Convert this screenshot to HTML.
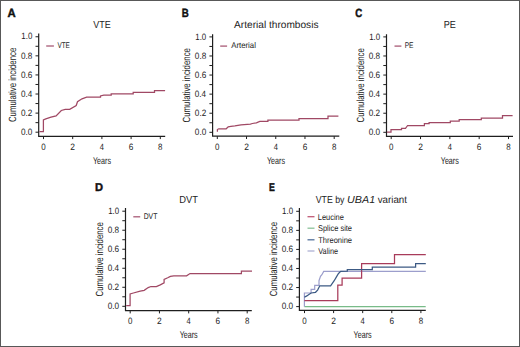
<!DOCTYPE html>
<html><head><meta charset="utf-8"><style>
html,body{margin:0;padding:0;background:#fff;}
svg{display:block;}
text{font-family:"Liberation Sans", sans-serif;text-rendering:geometricPrecision;}
</style></head><body>
<svg width="520" height="347" viewBox="0 0 520 347">
<rect x="0" y="0" width="520" height="347" fill="#fff"/>
<path d="M38.70 33.50V136.30H165.20" fill="none" stroke="#1e1e1e" stroke-width="1.2"/>
<path d="M35.50 132.20H38.70M35.50 122.65H38.70M35.50 113.11H38.70M35.50 103.56H38.70M35.50 94.02H38.70M35.50 84.47H38.70M35.50 74.93H38.70M35.50 65.39H38.70M35.50 55.84H38.70M35.50 46.29H38.70M35.50 36.75H38.70M43.50 136.30V139.10M72.70 136.30V139.10M101.90 136.30V139.10M131.10 136.30V139.10M160.30 136.30V139.10" fill="none" stroke="#1e1e1e" stroke-width="1"/>
<path d="M212.60 34.30V136.20H339.30" fill="none" stroke="#1e1e1e" stroke-width="1.2"/>
<path d="M209.40 132.30H212.60M209.40 122.76H212.60M209.40 113.22H212.60M209.40 103.68H212.60M209.40 94.14H212.60M209.40 84.60H212.60M209.40 75.06H212.60M209.40 65.52H212.60M209.40 55.98H212.60M209.40 46.44H212.60M209.40 36.90H212.60M217.30 136.20V139.00M246.53 136.20V139.00M275.75 136.20V139.00M304.98 136.20V139.00M334.20 136.20V139.00" fill="none" stroke="#1e1e1e" stroke-width="1"/>
<path d="M386.50 34.30V136.30H513.00" fill="none" stroke="#1e1e1e" stroke-width="1.2"/>
<path d="M383.30 132.30H386.50M383.30 122.76H386.50M383.30 113.22H386.50M383.30 103.68H386.50M383.30 94.14H386.50M383.30 84.60H386.50M383.30 75.06H386.50M383.30 65.52H386.50M383.30 55.98H386.50M383.30 46.44H386.50M383.30 36.90H386.50M391.20 136.30V139.10M420.52 136.30V139.10M449.85 136.30V139.10M479.18 136.30V139.10M508.50 136.30V139.10" fill="none" stroke="#1e1e1e" stroke-width="1"/>
<path d="M125.50 208.00V310.60H251.80" fill="none" stroke="#1e1e1e" stroke-width="1.2"/>
<path d="M122.30 306.30H125.50M122.30 296.79H125.50M122.30 287.28H125.50M122.30 277.77H125.50M122.30 268.26H125.50M122.30 258.75H125.50M122.30 249.24H125.50M122.30 239.73H125.50M122.30 230.22H125.50M122.30 220.71H125.50M122.30 211.20H125.50M130.20 310.60V313.40M159.45 310.60V313.40M188.70 310.60V313.40M217.95 310.60V313.40M247.20 310.60V313.40" fill="none" stroke="#1e1e1e" stroke-width="1"/>
<path d="M299.40 208.00V310.30H425.80" fill="none" stroke="#1e1e1e" stroke-width="1.2"/>
<path d="M296.20 306.60H299.40M296.20 297.07H299.40M296.20 287.54H299.40M296.20 278.01H299.40M296.20 268.48H299.40M296.20 258.95H299.40M296.20 249.42H299.40M296.20 239.89H299.40M296.20 230.36H299.40M296.20 220.83H299.40M296.20 211.30H299.40M304.50 310.30V313.10M333.60 310.30V313.10M362.70 310.30V313.10M391.80 310.30V313.10M420.90 310.30V313.10" fill="none" stroke="#1e1e1e" stroke-width="1"/>
<path d="M46.2 46.0H53.9" stroke="#a85a76" stroke-width="1.3"/>
<path d="M220.2 46.1H227.1" stroke="#a85a76" stroke-width="1.3"/>
<path d="M394.5 46.1H401.4" stroke="#a85a76" stroke-width="1.3"/>
<path d="M133.3 216.8H140.2" stroke="#a85a76" stroke-width="1.3"/>
<path d="M307.5 216.7H314.5" stroke="#c05a76" stroke-width="1.3"/>
<path d="M307.5 228.2H314.5" stroke="#8cc29a" stroke-width="1.3"/>
<path d="M307.5 239.8H314.5" stroke="#52709a" stroke-width="1.3"/>
<path d="M307.5 251.0H314.5" stroke="#aeb0d4" stroke-width="1.3"/>
<path d="M39.40 131.70 L43.40 131.70 L43.40 119.80 L45.80 118.80 L51.00 117.20 L56.10 115.90 L61.30 110.50 L65.20 109.40 L69.70 109.40 L76.20 105.50 L77.50 101.70 L82.00 98.80 L86.60 97.20 L100.50 97.20 L100.50 96.00 L103.80 95.20 L111.20 95.20 L111.20 93.90 L133.20 93.90 L133.20 92.30 L154.50 92.30 L154.50 90.50 L165.10 90.50" fill="none" stroke="#a04864" stroke-width="1.25" stroke-linejoin="miter"/>
<path d="M217.40 131.80 L217.40 129.50 L218.70 128.80 L226.20 128.80 L228.20 126.80 L230.90 126.40 L234.90 125.90 L241.00 124.80 L250.40 124.10 L252.40 123.50 L256.40 122.80 L259.80 121.40 L267.90 121.40 L267.90 120.10 L299.00 120.10 L299.00 118.50 L328.00 118.50 L328.00 116.20 L338.40 116.20" fill="none" stroke="#a04864" stroke-width="1.25" stroke-linejoin="miter"/>
<path d="M387.00 132.20 L391.00 132.20 L391.00 129.50 L401.50 129.50 L401.50 128.40 L405.50 128.40 L407.60 125.50 L424.40 125.50 L424.40 123.70 L429.10 123.70 L429.10 122.50 L450.30 122.50 L450.30 121.00 L459.20 121.00 L459.20 119.60 L481.30 119.60 L481.30 118.10 L502.50 118.10 L502.50 115.50 L512.60 115.50" fill="none" stroke="#a04864" stroke-width="1.25" stroke-linejoin="miter"/>
<path d="M126.20 305.60 L130.10 305.60 L130.10 293.90 L133.40 293.00 L140.20 291.20 L144.20 290.30 L148.20 287.60 L150.90 286.50 L156.30 286.50 L160.30 284.90 L164.10 282.90 L164.10 279.50 L167.70 277.80 L170.40 276.40 L173.80 275.80 L186.60 275.80 L190.00 273.50 L241.40 273.50 L241.40 271.00 L252.00 271.00" fill="none" stroke="#a04864" stroke-width="1.25" stroke-linejoin="miter"/>
<path d="M304.40 306.70 L425.70 306.70" fill="none" stroke="#78bb88" stroke-width="1.3" stroke-linejoin="miter"/>
<path d="M304.40 306.70 L304.40 293.00 L311.10 293.00 L311.10 289.40 L314.70 289.40 L314.70 285.30 L319.00 285.30 L319.00 280.70 L320.50 276.40 L321.90 274.70 L323.70 271.40 L425.80 271.40" fill="none" stroke="#9c9ecc" stroke-width="1.2" stroke-linejoin="miter"/>
<path d="M304.40 300.50 L337.80 300.50 L337.80 285.20 L342.10 285.20 L342.10 278.20 L361.60 278.20 L361.60 263.60 L394.50 263.60 L394.50 254.50 L425.80 254.50" fill="none" stroke="#a83b5a" stroke-width="1.25" stroke-linejoin="miter"/>
<path d="M304.40 297.30 L306.80 295.90 L308.20 294.90 L311.10 293.00 L315.50 292.30 L317.60 290.10 L319.80 285.80 L330.60 285.80 L334.20 280.70 L336.30 277.10 L338.50 273.50 L340.70 271.40 L347.30 271.20 L347.30 269.60 L372.30 269.60 L372.30 267.00 L415.60 267.00 L415.60 263.60 L425.80 263.60" fill="none" stroke="#3c5a84" stroke-width="1.25" stroke-linejoin="miter"/>
<text x="20.97" y="134.90" font-size="9.2" fill="#222" textLength="11.40" lengthAdjust="spacingAndGlyphs">0.0</text>
<text x="20.97" y="115.81" font-size="9.2" fill="#222" textLength="11.40" lengthAdjust="spacingAndGlyphs">0.2</text>
<text x="20.97" y="96.72" font-size="9.2" fill="#222" textLength="11.28" lengthAdjust="spacingAndGlyphs">0.4</text>
<text x="20.97" y="77.63" font-size="9.2" fill="#222" textLength="11.40" lengthAdjust="spacingAndGlyphs">0.6</text>
<text x="20.97" y="58.54" font-size="9.2" fill="#222" textLength="11.40" lengthAdjust="spacingAndGlyphs">0.8</text>
<text x="21.35" y="39.45" font-size="9.2" fill="#222" textLength="10.99" lengthAdjust="spacingAndGlyphs">1.0</text>
<text x="41.27" y="149.90" font-size="9.2" fill="#222" textLength="4.45" lengthAdjust="spacingAndGlyphs">0</text>
<text x="70.34" y="149.90" font-size="9.2" fill="#222" textLength="4.72" lengthAdjust="spacingAndGlyphs">2</text>
<text x="99.79" y="149.90" font-size="9.2" fill="#222" textLength="4.21" lengthAdjust="spacingAndGlyphs">4</text>
<text x="128.75" y="149.90" font-size="9.2" fill="#222" textLength="4.58" lengthAdjust="spacingAndGlyphs">6</text>
<text x="158.07" y="149.90" font-size="9.2" fill="#222" textLength="4.45" lengthAdjust="spacingAndGlyphs">8</text>
<text x="92.97" y="163.90" font-size="10" fill="#222" textLength="18.02" lengthAdjust="spacingAndGlyphs">Years</text>
<text x="194.87" y="135.00" font-size="9.2" fill="#222" textLength="11.40" lengthAdjust="spacingAndGlyphs">0.0</text>
<text x="194.87" y="115.92" font-size="9.2" fill="#222" textLength="11.40" lengthAdjust="spacingAndGlyphs">0.2</text>
<text x="194.87" y="96.84" font-size="9.2" fill="#222" textLength="11.28" lengthAdjust="spacingAndGlyphs">0.4</text>
<text x="194.87" y="77.76" font-size="9.2" fill="#222" textLength="11.40" lengthAdjust="spacingAndGlyphs">0.6</text>
<text x="194.87" y="58.68" font-size="9.2" fill="#222" textLength="11.40" lengthAdjust="spacingAndGlyphs">0.8</text>
<text x="195.25" y="39.60" font-size="9.2" fill="#222" textLength="10.99" lengthAdjust="spacingAndGlyphs">1.0</text>
<text x="215.07" y="149.80" font-size="9.2" fill="#222" textLength="4.45" lengthAdjust="spacingAndGlyphs">0</text>
<text x="244.16" y="149.80" font-size="9.2" fill="#222" textLength="4.72" lengthAdjust="spacingAndGlyphs">2</text>
<text x="273.64" y="149.80" font-size="9.2" fill="#222" textLength="4.21" lengthAdjust="spacingAndGlyphs">4</text>
<text x="302.63" y="149.80" font-size="9.2" fill="#222" textLength="4.58" lengthAdjust="spacingAndGlyphs">6</text>
<text x="331.97" y="149.80" font-size="9.2" fill="#222" textLength="4.45" lengthAdjust="spacingAndGlyphs">8</text>
<text x="266.97" y="163.80" font-size="10" fill="#222" textLength="18.02" lengthAdjust="spacingAndGlyphs">Years</text>
<text x="368.77" y="135.00" font-size="9.2" fill="#222" textLength="11.40" lengthAdjust="spacingAndGlyphs">0.0</text>
<text x="368.77" y="115.92" font-size="9.2" fill="#222" textLength="11.40" lengthAdjust="spacingAndGlyphs">0.2</text>
<text x="368.77" y="96.84" font-size="9.2" fill="#222" textLength="11.28" lengthAdjust="spacingAndGlyphs">0.4</text>
<text x="368.77" y="77.76" font-size="9.2" fill="#222" textLength="11.40" lengthAdjust="spacingAndGlyphs">0.6</text>
<text x="368.77" y="58.68" font-size="9.2" fill="#222" textLength="11.40" lengthAdjust="spacingAndGlyphs">0.8</text>
<text x="369.15" y="39.60" font-size="9.2" fill="#222" textLength="10.99" lengthAdjust="spacingAndGlyphs">1.0</text>
<text x="388.97" y="149.90" font-size="9.2" fill="#222" textLength="4.45" lengthAdjust="spacingAndGlyphs">0</text>
<text x="418.16" y="149.90" font-size="9.2" fill="#222" textLength="4.72" lengthAdjust="spacingAndGlyphs">2</text>
<text x="447.74" y="149.90" font-size="9.2" fill="#222" textLength="4.21" lengthAdjust="spacingAndGlyphs">4</text>
<text x="476.83" y="149.90" font-size="9.2" fill="#222" textLength="4.58" lengthAdjust="spacingAndGlyphs">6</text>
<text x="506.27" y="149.90" font-size="9.2" fill="#222" textLength="4.45" lengthAdjust="spacingAndGlyphs">8</text>
<text x="440.77" y="163.90" font-size="10" fill="#222" textLength="18.02" lengthAdjust="spacingAndGlyphs">Years</text>
<text x="107.77" y="309.00" font-size="9.2" fill="#222" textLength="11.40" lengthAdjust="spacingAndGlyphs">0.0</text>
<text x="107.77" y="289.98" font-size="9.2" fill="#222" textLength="11.40" lengthAdjust="spacingAndGlyphs">0.2</text>
<text x="107.77" y="270.96" font-size="9.2" fill="#222" textLength="11.28" lengthAdjust="spacingAndGlyphs">0.4</text>
<text x="107.77" y="251.94" font-size="9.2" fill="#222" textLength="11.40" lengthAdjust="spacingAndGlyphs">0.6</text>
<text x="107.77" y="232.92" font-size="9.2" fill="#222" textLength="11.40" lengthAdjust="spacingAndGlyphs">0.8</text>
<text x="108.15" y="213.90" font-size="9.2" fill="#222" textLength="10.99" lengthAdjust="spacingAndGlyphs">1.0</text>
<text x="127.97" y="324.20" font-size="9.2" fill="#222" textLength="4.45" lengthAdjust="spacingAndGlyphs">0</text>
<text x="157.09" y="324.20" font-size="9.2" fill="#222" textLength="4.72" lengthAdjust="spacingAndGlyphs">2</text>
<text x="186.59" y="324.20" font-size="9.2" fill="#222" textLength="4.21" lengthAdjust="spacingAndGlyphs">4</text>
<text x="215.60" y="324.20" font-size="9.2" fill="#222" textLength="4.58" lengthAdjust="spacingAndGlyphs">6</text>
<text x="244.97" y="324.20" font-size="9.2" fill="#222" textLength="4.45" lengthAdjust="spacingAndGlyphs">8</text>
<text x="179.67" y="338.20" font-size="10" fill="#222" textLength="18.02" lengthAdjust="spacingAndGlyphs">Years</text>
<text x="281.67" y="309.30" font-size="9.2" fill="#222" textLength="11.40" lengthAdjust="spacingAndGlyphs">0.0</text>
<text x="281.67" y="290.24" font-size="9.2" fill="#222" textLength="11.40" lengthAdjust="spacingAndGlyphs">0.2</text>
<text x="281.67" y="271.18" font-size="9.2" fill="#222" textLength="11.28" lengthAdjust="spacingAndGlyphs">0.4</text>
<text x="281.67" y="252.12" font-size="9.2" fill="#222" textLength="11.40" lengthAdjust="spacingAndGlyphs">0.6</text>
<text x="281.67" y="233.06" font-size="9.2" fill="#222" textLength="11.40" lengthAdjust="spacingAndGlyphs">0.8</text>
<text x="282.05" y="214.00" font-size="9.2" fill="#222" textLength="10.99" lengthAdjust="spacingAndGlyphs">1.0</text>
<text x="302.27" y="323.90" font-size="9.2" fill="#222" textLength="4.45" lengthAdjust="spacingAndGlyphs">0</text>
<text x="331.24" y="323.90" font-size="9.2" fill="#222" textLength="4.72" lengthAdjust="spacingAndGlyphs">2</text>
<text x="360.59" y="323.90" font-size="9.2" fill="#222" textLength="4.21" lengthAdjust="spacingAndGlyphs">4</text>
<text x="389.45" y="323.90" font-size="9.2" fill="#222" textLength="4.58" lengthAdjust="spacingAndGlyphs">6</text>
<text x="418.67" y="323.90" font-size="9.2" fill="#222" textLength="4.45" lengthAdjust="spacingAndGlyphs">8</text>
<text x="353.62" y="337.90" font-size="10" fill="#222" textLength="18.02" lengthAdjust="spacingAndGlyphs">Years</text>
<text x="7.56" y="16.80" font-size="11.9" font-weight="bold" stroke="#111" stroke-width="0.45" fill="#111" textLength="8.16" lengthAdjust="spacingAndGlyphs">A</text>
<text x="181.69" y="16.70" font-size="11.9" font-weight="bold" stroke="#111" stroke-width="0.45" fill="#111" textLength="6.99" lengthAdjust="spacingAndGlyphs">B</text>
<text x="355.29" y="16.90" font-size="11.9" font-weight="bold" stroke="#111" stroke-width="0.45" fill="#111" textLength="6.99" lengthAdjust="spacingAndGlyphs">C</text>
<text x="94.97" y="190.90" font-size="11.4" font-weight="bold" stroke="#111" stroke-width="0.45" fill="#111" textLength="8.00" lengthAdjust="spacingAndGlyphs">D</text>
<text x="269.12" y="190.90" font-size="11.4" font-weight="bold" stroke="#111" stroke-width="0.45" fill="#111" textLength="5.85" lengthAdjust="spacingAndGlyphs">E</text>
<text x="93.19" y="28.30" font-size="10.2" fill="#222" textLength="17.51" lengthAdjust="spacingAndGlyphs">VTE</text>
<text x="234.10" y="28.30" font-size="10.2" fill="#222" textLength="84.41" lengthAdjust="spacingAndGlyphs">Arterial thrombosis</text>
<text x="443.72" y="28.40" font-size="10.2" fill="#222" textLength="12.10" lengthAdjust="spacingAndGlyphs">PE</text>
<text x="179.30" y="202.90" font-size="10.2" fill="#222" textLength="18.73" lengthAdjust="spacingAndGlyphs">DVT</text>
<text x="315.69" y="203.10" font-size="10.2" fill="#222" textLength="28.73" lengthAdjust="spacingAndGlyphs">VTE by</text>
<text x="347.11" y="203.10" font-size="10.2" font-style="italic" fill="#222" textLength="28.01" lengthAdjust="spacingAndGlyphs">UBA1</text>
<text x="377.70" y="203.10" font-size="10.2" fill="#222" textLength="29.27" lengthAdjust="spacingAndGlyphs">variant</text>
<text x="57.40" y="48.30" font-size="8.3" fill="#222" textLength="12.40" lengthAdjust="spacingAndGlyphs">VTE</text>
<text x="231.20" y="48.30" font-size="8.3" fill="#222" textLength="24.70" lengthAdjust="spacingAndGlyphs">Arterial</text>
<text x="404.70" y="48.30" font-size="8.3" fill="#222" textLength="8.86" lengthAdjust="spacingAndGlyphs">PE</text>
<text x="143.68" y="219.30" font-size="8.3" fill="#222" textLength="13.71" lengthAdjust="spacingAndGlyphs">DVT</text>
<text x="317.75" y="219.60" font-size="8.5" fill="#222" textLength="26.10" lengthAdjust="spacingAndGlyphs">Leucine</text>
<text x="317.97" y="230.90" font-size="8.5" fill="#222" textLength="34.06" lengthAdjust="spacingAndGlyphs">Splice site</text>
<text x="318.19" y="242.60" font-size="8.5" fill="#222" textLength="33.87" lengthAdjust="spacingAndGlyphs">Threonine</text>
<text x="318.30" y="254.00" font-size="8.5" fill="#222" textLength="19.72" lengthAdjust="spacingAndGlyphs">Valine</text>
<text transform="translate(15.90 84.90) rotate(-90)" x="-37.13" y="0" font-size="10.4" fill="#222" textLength="74.26" lengthAdjust="spacingAndGlyphs">Cumulative incidence</text>
<text transform="translate(189.80 85.25) rotate(-90)" x="-37.13" y="0" font-size="10.4" fill="#222" textLength="74.26" lengthAdjust="spacingAndGlyphs">Cumulative incidence</text>
<text transform="translate(363.70 85.30) rotate(-90)" x="-37.13" y="0" font-size="10.4" fill="#222" textLength="74.26" lengthAdjust="spacingAndGlyphs">Cumulative incidence</text>
<text transform="translate(102.70 259.30) rotate(-90)" x="-37.13" y="0" font-size="10.4" fill="#222" textLength="74.26" lengthAdjust="spacingAndGlyphs">Cumulative incidence</text>
<text transform="translate(276.60 259.15) rotate(-90)" x="-37.13" y="0" font-size="10.4" fill="#222" textLength="74.26" lengthAdjust="spacingAndGlyphs">Cumulative incidence</text>
<rect x="0.5" y="0.5" width="519" height="346" fill="none" stroke="#585858" stroke-width="1"/>
</svg>
</body></html>
